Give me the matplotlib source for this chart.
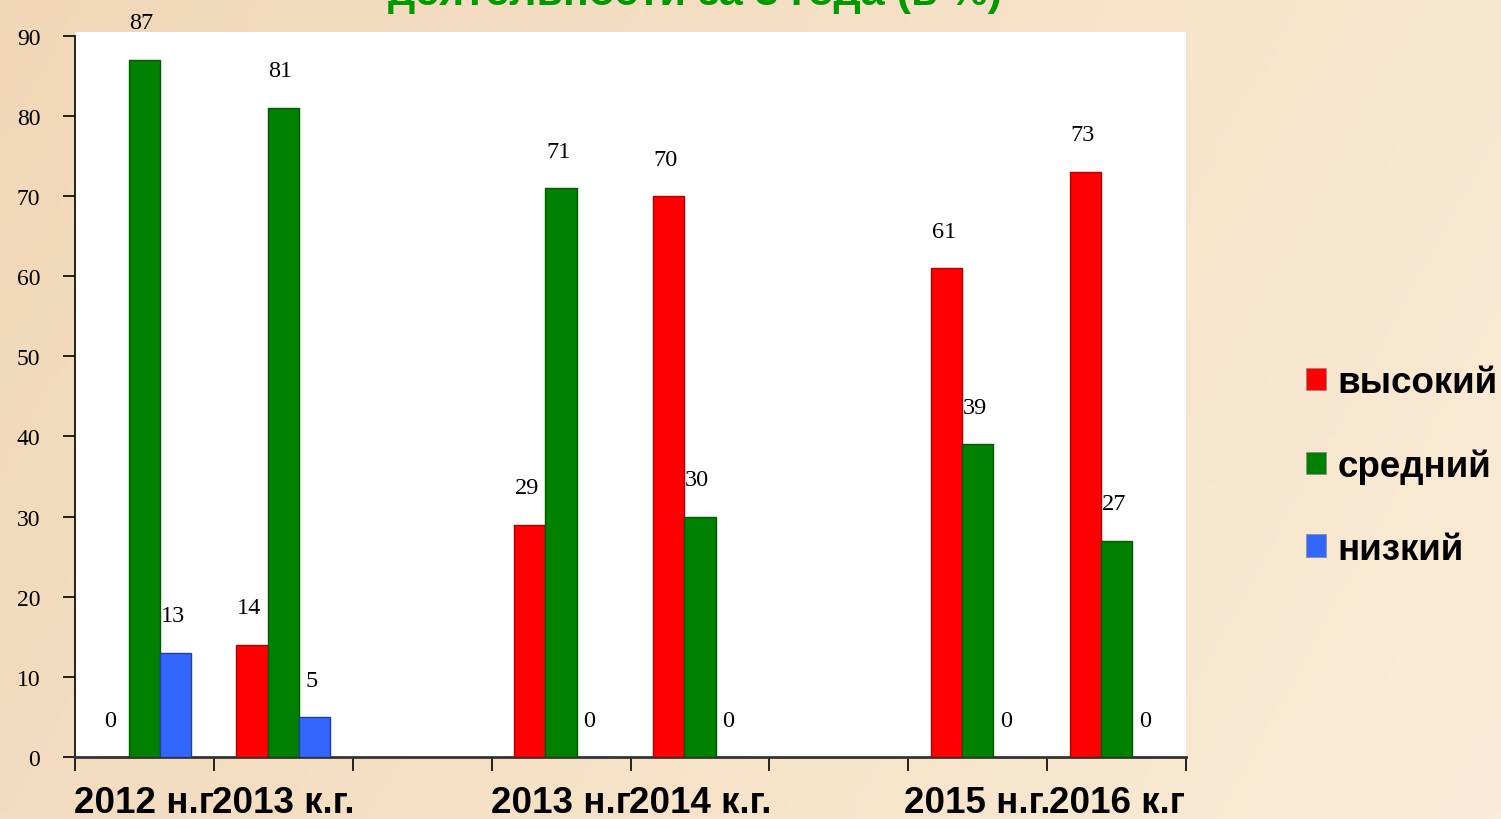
import numpy as np
import matplotlib
matplotlib.use("Agg")
import matplotlib.pyplot as plt
from matplotlib.patches import Patch

# slots along the axis (two are left empty in the original)
periods = ["2012 н.г", "2013 к.г.", "", "2013 н.г", "2014 к.г.", "", "2015 н.г.", "2016 к.г"]
high = [0, 14, None, 29, 70, None, 61, 73]
mid = [87, 81, None, 71, 30, None, 39, 27]
low = [13, 5, None, 0, 0, None, 0, 0]
series_names = ["высокий", "средний", "низкий"]
colors = ["#ff0000", "#008000", "#3366ff"]
edges = ["#b00000", "#005a00", "#1f3fa0"]

fig = plt.figure(figsize=(15.01, 8.2), dpi=100)

# beige background with a soft gradient
bg = fig.add_axes([0, 0, 1, 1], zorder=-10)
gx = np.linspace(0, 1, 200)
gy = np.linspace(0, 1, 120)
GX, GY = np.meshgrid(gx, gy)
c0 = np.array([236, 204, 168]) / 255.0
c1 = np.array([250, 236, 214]) / 255.0
t = np.clip(0.35 + 0.5 * GX + 0.15 * GY, 0, 1)[..., None]
bg.imshow(c0 * (1 - t) + c1 * t, aspect="auto", extent=[0, 1, 0, 1])
bg.set_axis_off()

ax = fig.add_axes([75 / 1501, 1 - 758 / 820, (1186 - 75) / 1501, (758 - 33) / 820])
ax.set_facecolor("white")

x = np.arange(len(periods)) + 0.5
w = 0.225
for k, vals in enumerate([high, mid, low]):
    xs = [x[i] + (k - 1) * w for i, v in enumerate(vals) if v is not None]
    vs = [v for v in vals if v is not None]
    bars = ax.bar(xs, vs, width=w, color=colors[k], edgecolor=edges[k], linewidth=1, zorder=3)
    for xi, v in zip(xs, vs):
        ax.annotate(str(v), (xi, v), xytext=(-2, 19), textcoords="offset points",
                    ha="center", va="bottom", fontsize=17.5, family="Liberation Serif")

ax.set_xlim(0, 8)
ax.set_ylim(0, 90.45)
ax.set_yticks(range(0, 91, 10))
ax.tick_params(axis="y", length=9, width=1.2, pad=16, labelsize=17)
for lab in ax.get_yticklabels():
    lab.set_family("Liberation Serif")

ax.set_xticks(x)
ax.set_xticklabels(periods, fontsize=26.5, fontweight="bold", family="Liberation Sans")
ax.tick_params(axis="x", which="major", length=0, pad=20)
ax.set_xticks(np.arange(0, 9), minor=True)
ax.tick_params(axis="x", which="minor", length=10, width=1.2)

for s in ["top", "right"]:
    ax.spines[s].set_visible(False)
ax.spines["left"].set_bounds(0, 90)
ax.spines["left"].set_linewidth(1.2)
ax.spines["bottom"].set_linewidth(2)
ax.spines["bottom"].set_color("#333333")

handles = [Patch(facecolor=c, edgecolor="#888888", linewidth=0.5) for c in colors]
fig.legend(handles, series_names, loc="center left", bbox_to_anchor=(1306 / 1501, 1 - 467 / 820),
           frameon=False, prop={"family": "Liberation Sans", "weight": "bold", "size": 26.5},
           handlelength=0.55, handleheight=0.55, handletextpad=0.3, labelspacing=1.3,
           borderpad=0, borderaxespad=0)

# title, cut off at the top edge like in the original slide
fig.text(695 / 1501, 1 - 5 / 820, "деятельности за 3 года (в %)", ha="center", va="baseline",
         fontsize=31, fontweight="bold", color="#009900", family="Liberation Sans")

fig.savefig("out.png", dpi=100)
